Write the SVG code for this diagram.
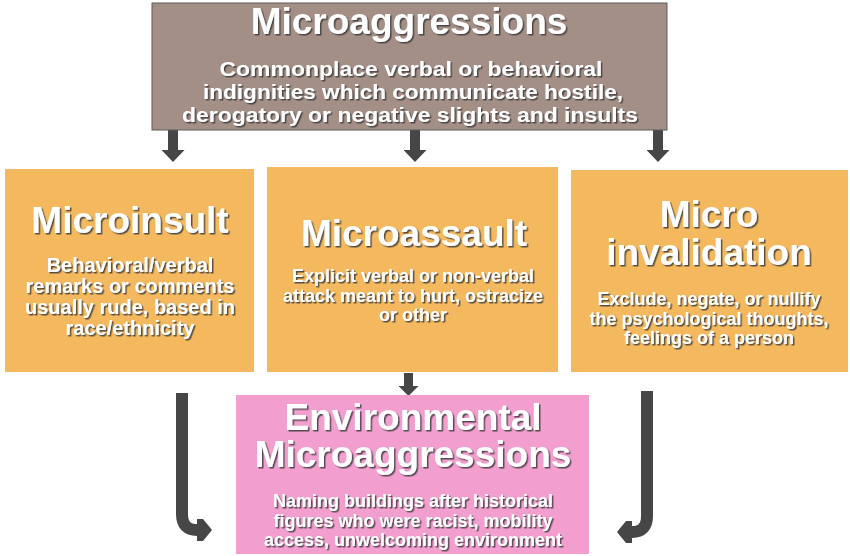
<svg xmlns="http://www.w3.org/2000/svg" width="850" height="556" viewBox="0 0 850 556">
<style>
  .t { font-family: "Liberation Sans", Arial, sans-serif; font-weight: bold; fill: #ffffff; text-anchor: middle; filter: url(#sh); }
  .h { font-size: 37px; }
  .s20 { font-size: 20px; }
  .s18 { font-size: 18px; }
  .conn { fill: none; stroke: #464646; }
</style>
<defs>
  <filter id="sh" x="-10%" y="-30%" width="120%" height="160%">
    <feDropShadow dx="1.5" dy="1.5" stdDeviation="0.7" flood-color="#3a3a3a" flood-opacity="0.85"/>
  </filter>
  <marker id="ah" markerUnits="userSpaceOnUse" viewBox="0 0 12 23" refX="0" refY="11.5" markerWidth="12" markerHeight="23" orient="auto">
    <path d="M0,0 L12,11.5 L0,23 z" fill="#464646"/>
  </marker>
  <marker id="ah2" markerUnits="userSpaceOnUse" viewBox="0 0 10 20" refX="0" refY="10" markerWidth="10" markerHeight="20" orient="auto">
    <path d="M0,0 L10,10 L0,20 z" fill="#464646"/>
  </marker>
  <marker id="ah3" markerUnits="userSpaceOnUse" viewBox="0 0 15 22" refX="0" refY="11" markerWidth="15" markerHeight="22" orient="auto">
    <path d="M0,0 L6,0 L15,11 L6,22 L0,22 z" fill="#464646"/>
  </marker>
</defs>
<rect width="850" height="556" fill="#ffffff"/>

<g id="connectors">
  <path class="conn" stroke-width="10" d="M173,130 V150" marker-end="url(#ah)"/>
  <path class="conn" stroke-width="10" d="M415,130 V150" marker-end="url(#ah)"/>
  <path class="conn" stroke-width="10" d="M658,130 V150" marker-end="url(#ah)"/>
  <path class="conn" stroke-width="9" d="M408.5,373 V386" marker-end="url(#ah2)"/>
  <path class="conn" stroke-width="12" stroke-linejoin="round" d="M182,393 V514 Q182,530 197,530" marker-end="url(#ah3)"/>
  <path class="conn" stroke-width="12" stroke-linejoin="round" d="M647,391 V516 Q647,532 632,532" marker-end="url(#ah3)"/>
</g>

<g id="microaggressions">
  <rect x="152" y="3" width="515" height="127" fill="#a48f87" stroke="#5a5a5a" stroke-width="1"/>
  <text class="t h" x="409" y="34">Microaggressions</text>
  <text class="t s20" x="411" y="76" textLength="383" lengthAdjust="spacingAndGlyphs">Commonplace verbal or behavioral</text>
  <text class="t s20" x="413" y="99" textLength="420" lengthAdjust="spacingAndGlyphs">indignities which communicate hostile,</text>
  <text class="t s20" x="410" y="122" textLength="456" lengthAdjust="spacingAndGlyphs">derogatory or negative slights and insults</text>
</g>

<g id="microinsult">
  <rect x="5" y="169" width="249" height="203" fill="#f4b95f"/>
  <text class="t h" x="130" y="233">Microinsult</text>
  <text class="t s20" x="130" y="272">Behavioral/verbal</text>
  <text class="t s20" x="130" y="293">remarks or comments</text>
  <text class="t s20" x="130" y="314">usually rude, based in</text>
  <text class="t s20" x="130" y="335">race/ethnicity</text>
</g>

<g id="microassault">
  <rect x="267" y="167" width="291" height="205" fill="#f4b95f"/>
  <text class="t h" x="414" y="246">Microassault</text>
  <text class="t s18" x="413" y="282">Explicit verbal or non-verbal</text>
  <text class="t s18" x="413" y="302">attack meant to hurt, ostracize</text>
  <text class="t s18" x="413" y="321">or other</text>
</g>

<g id="microinvalidation">
  <rect x="571" y="170" width="277" height="202" fill="#f4b95f"/>
  <text class="t h" x="709" y="227">Micro</text>
  <text class="t h" x="709" y="265">invalidation</text>
  <text class="t s18" x="709" y="305">Exclude, negate, or nullify</text>
  <text class="t s18" x="709" y="324.5">the psychological thoughts,</text>
  <text class="t s18" x="709" y="344">feelings of a person</text>
</g>

<g id="environmental">
  <rect x="236" y="395" width="353" height="159" fill="#f29ece"/>
  <text class="t h" x="413" y="430">Environmental</text>
  <text class="t h" x="413" y="467">Microaggressions</text>
  <text class="t s18" x="413" y="507">Naming buildings after historical</text>
  <text class="t s18" x="413" y="526.5">figures who were racist, mobility</text>
  <text class="t s18" x="413" y="546">access, unwelcoming environment</text>
</g>
</svg>
